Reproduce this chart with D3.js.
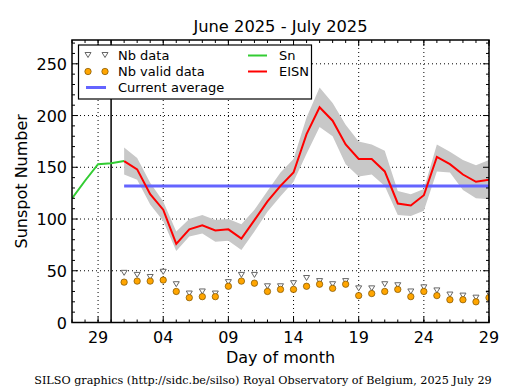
<!DOCTYPE html>
<html><head><meta charset="utf-8">
<script src="https://cdn.jsdelivr.net/npm/d3@7/dist/d3.min.js"></script>
<style>html,body{margin:0;padding:0;background:#fff;}svg{display:block;}</style>
</head><body>
<svg id="c" width="515" height="390"></svg>
<script>
// ---- data ----
const snDays = ["2025-06-27","2025-06-28","2025-06-29","2025-06-30","2025-07-01"];
const snValues = [120,137,153,154,156];
const eisnDays = d3.range(1,30).map(d=>`2025-07-${String(d).padStart(2,"0")}`);
const eisnValues = [156,148,124,109,76,90,94,89,90,81,99,117,132,145,182,208,195,172,158,158,146,115,113,123,160,153,143,136,138];
const eisnUpper = [169,159,135,117,88,100,104,99,100,95,109,127,145,158,198,227,212,191,175,172,166,127,124,129,172,165,157,152,157];
const eisnLower = [143,138,114,98,69,83,86,78,79,70,88,107,122,136,163,189,180,153,141,143,132,104,103,108,146,145,128,120,119];
const nbData = [48,46,44,49,37,28,30,28,39,46,46,35,35,38,43,40,37,40,33,33,37,36,30,34,31,27,26,24,28];
const nbValid = [39,40,40,41,30,24,25,25,35,40,38,30,32,32,35,37,33,37,26,28,30,32,25,30,26,22,22,20,24];
const currentAverage = 132;
const markerDay = "2025-06-30";
const xTickDays = ["2025-06-29","2025-07-04","2025-07-09","2025-07-14","2025-07-19","2025-07-24","2025-07-29"];
const yTicks = [0,50,100,150,200,250];
const xDomain = ["2025-06-27","2025-07-29"];
const yMax = 273;

const P = d3.utcParse("%Y-%m-%d");
const svg = d3.select("#c");
const L=72, R=489, T=40, B=322.5;
const x = d3.scaleUtc().domain(xDomain.map(P)).range([L,R]);
const y = d3.scaleLinear().domain([0,yMax]).range([B,T]);

const defs = svg.append("defs");
defs.append("clipPath").attr("id","clip").append("rect").attr("x",L).attr("y",T).attr("width",R-L).attr("height",B-T);
const plot = svg.append("g").attr("clip-path","url(#clip)");

// grid
plot.selectAll(".gx").data(xTickDays.map(P)).join("line")
  .attr("x1",d=>x(d)).attr("x2",d=>x(d)).attr("y1",T).attr("y2",B)
  .attr("stroke","#000").attr("stroke-width",1).attr("stroke-dasharray","1,3");
plot.selectAll(".gy").data(yTicks.slice(1)).join("line")
  .attr("x1",L).attr("x2",R).attr("y1",d=>y(d)).attr("y2",d=>y(d))
  .attr("stroke","#000").attr("stroke-width",1).attr("stroke-dasharray","1,3");

// band
const eisn = eisnDays.map((d,i)=>({t:P(d),v:eisnValues[i],hi:eisnUpper[i],lo:eisnLower[i],nb:nbData[i],nv:nbValid[i]}));
plot.append("path").datum(eisn)
  .attr("d",d3.area().x(d=>x(d.t)).y0(d=>y(d.lo)).y1(d=>y(d.hi)))
  .attr("fill","#c8c8c8");

// vertical marker
plot.append("line").attr("x1",x(P(markerDay))).attr("x2",x(P(markerDay))).attr("y1",T).attr("y2",B)
  .attr("stroke","#000").attr("stroke-width",1.5);

// current average
plot.append("line").attr("x1",x(eisn[0].t)).attr("x2",x(eisn[eisn.length-1].t))
  .attr("y1",y(currentAverage)).attr("y2",y(currentAverage))
  .attr("stroke","#6464ff").attr("stroke-width",3);

// Sn
const sn = snDays.map((d,i)=>({t:P(d),v:snValues[i]}));
plot.append("path").datum(sn).attr("d",d3.line().x(d=>x(d.t)).y(d=>y(d.v)))
  .attr("fill","none").attr("stroke","#33cc33").attr("stroke-width",2);

// EISN
plot.append("path").datum(eisn).attr("d",d3.line().x(d=>x(d.t)).y(d=>y(d.v)))
  .attr("fill","none").attr("stroke","#ff0000").attr("stroke-width",2);

// markers
const tri = "M-3,-2.5L3,-2.5L0,2.5Z";
plot.selectAll(".tri").data(eisn).join("path")
  .attr("d",tri).attr("transform",d=>`translate(${x(d.t)},${y(d.nb)})`)
  .attr("fill","#fff").attr("stroke","#666").attr("stroke-width",1);
plot.selectAll(".dot").data(eisn).join("circle")
  .attr("cx",d=>x(d.t)).attr("cy",d=>y(d.nv)).attr("r",3.2)
  .attr("fill","#ffa500").attr("stroke","#7a5000").attr("stroke-width",0.7);

// ticks
const tg = svg.append("g").attr("stroke","#000").attr("stroke-width",1);
const minorX = d3.utcDay.range(P(xDomain[0]), d3.utcDay.offset(P(xDomain[1]),1));
minorX.forEach(d=>{
  const xx=x(d);
  tg.append("line").attr("x1",xx).attr("x2",xx).attr("y1",B).attr("y2",B-3);
  tg.append("line").attr("x1",xx).attr("x2",xx).attr("y1",T).attr("y2",T+3);
});
xTickDays.map(P).forEach(d=>{
  const xx=x(d);
  tg.append("line").attr("x1",xx).attr("x2",xx).attr("y1",B).attr("y2",B-6);
  tg.append("line").attr("x1",xx).attr("x2",xx).attr("y1",T).attr("y2",T+6);
});
d3.range(0,yMax,10).forEach(v=>{
  const yy=y(v);
  const len = v%50===0?6:3;
  tg.append("line").attr("x1",L).attr("x2",L+len).attr("y1",yy).attr("y2",yy);
  tg.append("line").attr("x1",R).attr("x2",R-len).attr("y1",yy).attr("y2",yy);
});

// frame
svg.append("rect").attr("x",L).attr("y",T).attr("width",R-L).attr("height",B-T)
  .attr("fill","none").attr("stroke","#000").attr("stroke-width",1.5);

// axes labels
const font = "DejaVu Sans, sans-serif";
const xf = d3.utcFormat("%d");
svg.selectAll(".xl").data(xTickDays.map(P)).join("text")
  .attr("x",d=>x(d)).attr("y",B+20).attr("text-anchor","middle")
  .attr("font-family",font).attr("font-size",16).text(d=>xf(d));
svg.selectAll(".yl").data(yTicks).join("text")
  .attr("x",L-5).attr("y",d=>y(d)+6).attr("text-anchor","end")
  .attr("font-family",font).attr("font-size",16).text(d=>d);
svg.append("text").attr("x",(L+R)/2).attr("y",363).attr("text-anchor","middle")
  .attr("font-family",font).attr("font-size",16).text("Day of month");
svg.append("text").attr("transform",`translate(27,${(T+B)/2}) rotate(-90)`).attr("text-anchor","middle")
  .attr("font-family",font).attr("font-size",16).text("Sunspot Number");
svg.append("text").attr("x",(L+R)/2).attr("y",32).attr("text-anchor","middle")
  .attr("font-family",font).attr("font-size",16.3).text("June 2025 - July 2025");
svg.append("text").attr("x",263).attr("y",384).attr("text-anchor","middle")
  .attr("font-family","DejaVu Serif, serif").attr("font-size",11.2)
  .text("SILSO graphics (http://sidc.be/silso) Royal Observatory of Belgium, 2025 July 29");

// legend
const lg = svg.append("g");
lg.append("rect").attr("x",78.5).attr("y",45).attr("width",233).attr("height",54)
  .attr("fill","#fff").attr("stroke","#000").attr("stroke-width",1.2);
[88,105].forEach(px=>{
  lg.append("path").attr("d",tri).attr("transform",`translate(${px},55)`)
    .attr("fill","#fff").attr("stroke","#666").attr("stroke-width",1);
  lg.append("circle").attr("cx",px).attr("cy",71.5).attr("r",3.2)
    .attr("fill","#ffa500").attr("stroke","#7a5000").attr("stroke-width",0.7);
});
lg.append("line").attr("x1",86).attr("x2",106).attr("y1",87.5).attr("y2",87.5).attr("stroke","#6464ff").attr("stroke-width",3);
lg.append("line").attr("x1",248).attr("x2",267).attr("y1",55.5).attr("y2",55.5).attr("stroke","#33cc33").attr("stroke-width",2);
lg.append("line").attr("x1",248).attr("x2",267).attr("y1",71.5).attr("y2",71.5).attr("stroke","#ff0000").attr("stroke-width",2);
const lt = [["Nb data",118,60],["Nb valid data",118,76],["Current average",118,92],["Sn",279,60],["EISN",279,76]];
lg.selectAll(".lt").data(lt).join("text").attr("x",d=>d[1]).attr("y",d=>d[2])
  .attr("font-family",font).attr("font-size",13).text(d=>d[0]);
</script>
</body></html>
